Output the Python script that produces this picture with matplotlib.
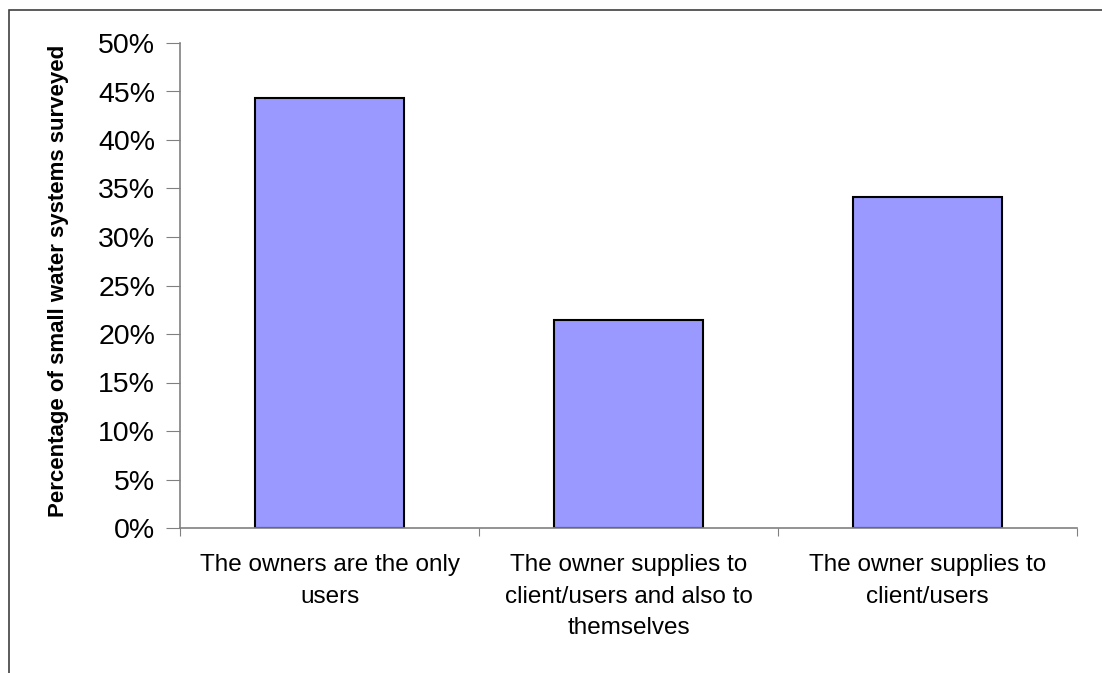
import matplotlib.pyplot as plt
from matplotlib.patches import Rectangle
from matplotlib.ticker import FuncFormatter

plt.rcParams['font.family'] = ['Liberation Sans', 'DejaVu Sans']

categories = ['The owners are the only\nusers',
              'The owner supplies to\nclient/users and also to\nthemselves',
              'The owner supplies to\nclient/users']
values = [44.3, 21.4, 34.1]
yticks = [0, 5, 10, 15, 20, 25, 30, 35, 40, 45, 50]

fig = plt.figure(figsize=(11.02, 6.73), dpi=100)
ax = fig.add_axes([180 / 1102, 145 / 673, 897 / 1102, 485 / 673])

# outer chart-area border (only top and left visible in original)
fig.patches.append(Rectangle((9 / 1102, -0.1), 1.2, 1.1 - 10 / 673,
                             transform=fig.transFigure, fill=False,
                             edgecolor='#404040', linewidth=1.2, zorder=0))

x = range(len(values))
ax.bar(x, values, width=0.5, color='#9999FF', edgecolor='black', linewidth=1.5)

ax.set_xlim(-0.5, 2.5)
ax.set_ylim(0, 50)
ax.set_yticks(yticks)
ax.yaxis.set_major_formatter(FuncFormatter(lambda v, p: f'{v:.0f}%'))

ax.set_xticks([-0.5, 0.5, 1.5, 2.5])
ax.set_xticklabels([])
ax.set_xticks(list(x), minor=True)
ax.set_xticklabels(categories, minor=True, fontsize=17.5, linespacing=1.55)
ax.tick_params(axis='x', which='minor', length=0, pad=19)
ax.tick_params(axis='x', which='major', length=6, color='#808080', direction='out')
ax.tick_params(axis='y', length=10, color='#808080', labelsize=20.5, pad=8)

for s in ['top', 'right']:
    ax.spines[s].set_visible(False)
for s in ['left', 'bottom']:
    ax.spines[s].set_color('#808080')
    ax.spines[s].set_linewidth(1.2)

ax.set_ylabel('Percentage of small water systems surveyed', fontsize=16,
              fontweight='bold')
ax.yaxis.set_label_coords(-0.124, 0.51)

fig.savefig('out.png', dpi=100)
